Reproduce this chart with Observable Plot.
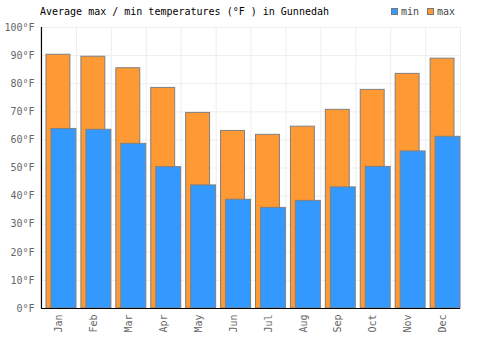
<!DOCTYPE html>
<html>
<head>
<meta charset="utf-8">
<script src="https://cdn.jsdelivr.net/npm/d3@7"></script>
<script src="https://cdn.jsdelivr.net/npm/@observablehq/plot@0.6"></script>
<style>
  body { margin: 0; background: #fff; }
  #wrap { position: relative; width: 500px; height: 350px; font-family: "DejaVu Sans Mono", monospace; font-size: 10px; }
  #title { position: absolute; left: 40px; top: 6px; color: #000; white-space: pre; }
  #legend { position: absolute; left: 391px; top: 6px; color: #444; display: flex; align-items: center; }
  .sw { display: inline-block; width: 5px; height: 5px; border: 1px solid #777; margin-right: 3px; }
  .item { display: flex; align-items: center; margin-right: 8px; }
  #chart { position: absolute; left: 0; top: 0; }
</style>
</head>
<body>
<div id="wrap">
  <div id="chart"></div>
  <div id="title">Average max / min temperatures (°F ) in Gunnedah</div>
  <div id="legend">
    <span class="item"><span class="sw" style="background:#3399ff"></span>min</span>
    <span class="item"><span class="sw" style="background:#ff9933"></span>max</span>
  </div>
</div>
<script>
const months = ["Jan","Feb","Mar","Apr","May","Jun","Jul","Aug","Sep","Oct","Nov","Dec"];
const maxTemps = [90.3, 89.6, 85.5, 78.5, 69.6, 63.2, 61.8, 64.7, 70.7, 77.8, 83.5, 88.9];
const minTemps = [63.9, 63.6, 58.6, 50.3, 43.8, 38.7, 35.8, 38.3, 43.1, 50.4, 55.9, 61.1];
const yTicks = [0,10,20,30,40,50,60,70,80,90,100];

const data = months.map((m, i) => ({month: m, max: maxTemps[i], min: minTemps[i]}));

const chart = Plot.plot({
  width: 500,
  height: 350,
  marginTop: 27,
  marginBottom: 42,
  marginLeft: 41,
  marginRight: 40,
  style: {fontFamily: "DejaVu Sans Mono, monospace", fontSize: "10px", background: "#fff"},
  x: {domain: months, padding: 0, round: false, label: null},
  y: {domain: [0, 100], label: null},
  marks: [
    Plot.ruleY(yTicks, {stroke: "#eeeeee", strokeWidth: 1}),
    Plot.ruleX(months, {x: d => d, dx: 17.5, stroke: "#eeeeee", strokeWidth: 1}),
    Plot.barY(data, {x: "month", y: "max", fill: "#ff9933", stroke: "#808080", strokeWidth: 1, insetLeft: 5, insetRight: 6}),
    Plot.barY(data, {x: "month", y: "min", fill: "#3399ff", stroke: "#808080", strokeWidth: 1, insetLeft: 10, insetRight: 0}),
    Plot.axisY(yTicks, {tickSize: 0, tickPadding: 7, tickFormat: d => d + "°F", fill: "#666", label: null}),
    Plot.axisX({tickSize: 0, tickPadding: 6, tickRotate: -90, fill: "#666", label: null}),
    Plot.ruleX([0], {x: () => months[0], dx: -17.5, stroke: "#000", strokeWidth: 1.2}),
    Plot.ruleY([0], {stroke: "#000", strokeWidth: 1.2})
  ]
});
document.getElementById("chart").appendChild(chart);
</script>
</body>
</html>
